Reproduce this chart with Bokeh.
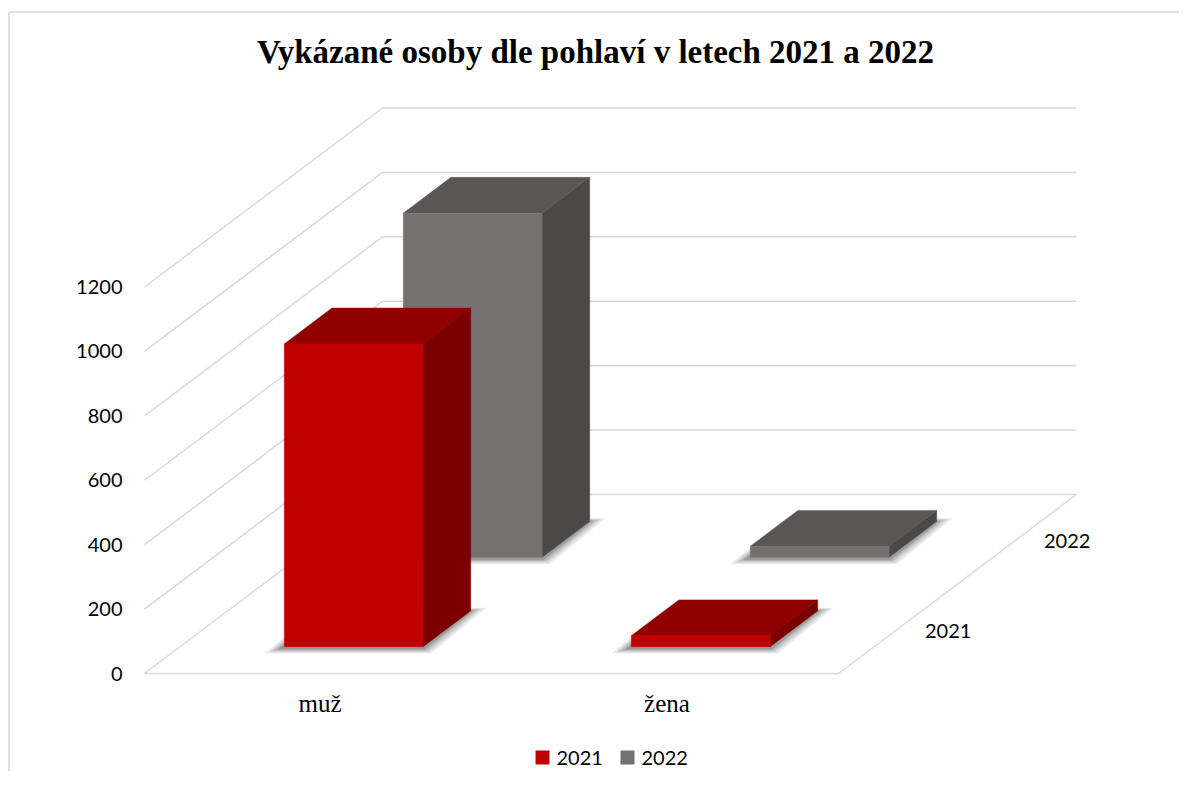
from bokeh.plotting import figure
from bokeh.models import Range1d
from bokeh.core.properties import value
from bokeh.embed import file_html
from bokeh.resources import INLINE

# ---- data ----
title = "Vykázané osoby dle pohlaví v letech 2021 a 2022"
categories = ["muž", "žena"]
series_names = ["2021", "2022"]
values_2021 = [940, 34]
values_2022 = [1068, 34]
y_ticks = [0, 200, 400, 600, 800, 1000, 1200]

front_colors = {"2021": "#C00000", "2022": "#767171"}
top_colors = {"2021": "#900000", "2022": "#5B5655"}
side_colors = {"2021": "#7A0000", "2022": "#4C4847"}

# ---- layout / projection ----
W, H = 1179, 771
X0, Y0 = 144.0, 673.0      # front-left floor corner (px)
CAT_W = 347.0               # px per category along x
DZX, DZY = 119.0, 89.5      # px per series slot along depth
SCALE = 386.5 / 1200.0      # px per value unit
BAR_W = 0.4                 # fraction of category
BAR_D = 0.4                 # fraction of series slot


def proj(x, z, v):
    return (X0 + x * CAT_W + z * DZX, Y0 - v * SCALE - z * DZY)


p = figure(width=W, height=H, output_backend="svg", toolbar_location=None,
           x_range=Range1d(0, W), y_range=Range1d(H, 0),
           min_border=0)
p.axis.visible = False
p.grid.visible = False
p.outline_line_color = None
p.background_fill_color = "white"

# chart frame
p.multi_line(xs=[[8.5, W + 5], [8.5, 8.5]], ys=[[11.5, 11.5], [11.5, H + 5]],
             line_color="#D9D9D9", line_width=1.5)

# gridlines: left wall and back wall
nz = len(series_names)
nc = len(categories)
gx, gy = [], []
for t in y_ticks:
    a = proj(0, 0, t); b = proj(0, nz, t); c = proj(nc, nz, t)
    gx.append([a[0], b[0], c[0]]); gy.append([a[1], b[1], c[1]])
# floor front and right edge
a = proj(0, 0, 0); b = proj(nc, 0, 0); c = proj(nc, nz, 0)
gx.append([a[0], b[0], c[0]]); gy.append([a[1], b[1], c[1]])
p.multi_line(xs=gx, ys=gy, line_color="#D9D9D9", line_width=1.5)

# y tick labels
p.text(x=[X0 - 22] * len(y_ticks), y=[proj(0, 0, t)[1] for t in y_ticks],
       text=[str(t) for t in y_ticks], text_align="right", text_baseline="middle",
       text_font=value("Lato"), text_font_size="20px", text_color="#000000")

# category labels
p.text(x=[proj(i + 0.5, 0, 0)[0] + 2 for i in range(nc)], y=[proj(0, 0, 0)[1] + 30] * nc,
       text=categories, text_align="center", text_baseline="middle",
       text_font=value("Liberation Serif"), text_font_size="25px", text_color="#000000")

# series labels on depth axis
p.text(x=[proj(nc, s + 0.5, 0)[0] + 27 for s in range(nz)],
       y=[proj(nc, s + 0.5, 0)[1] + 2 for s in range(nz)],
       text=series_names, text_align="left", text_baseline="middle",
       text_font=value("Lato"), text_font_size="20px", text_color="#000000")

# bars, back series first
series_values = {"2021": values_2021, "2022": values_2022}
for s in reversed(range(nz)):
    name = series_names[s]
    vals = series_values[name]
    z0 = s + (1 - BAR_D) / 2
    z1 = z0 + BAR_D
    # soft shadows on the floor
    shx, shy = [], []
    for ci, v in enumerate(vals):
        x0 = ci + (1 - BAR_W) / 2
        x1 = x0 + BAR_W
        FL = proj(x0, z0, 0); FR = proj(x1, z0, 0); BR = proj(x1, z1, 0); BL = proj(x0, z1, 0)
        for e in (16, 12, 9, 6, 4, 2):
            shx.append([FL[0] - e - 4, FR[0] + e * 0.5, BR[0] + e, BL[0] - e * 0.5 - 4])
            shy.append([FL[1] + e * 0.3 + 2, FR[1] + e * 0.3 + 2, BR[1] - e * 0.2, BL[1] - e * 0.2])
    p.patches(xs=shx, ys=shy, fill_color="#000000", fill_alpha=0.08, line_color=None)
    fx, fy, tx, ty, sx, sy = [], [], [], [], [], []
    for ci, v in enumerate(vals):
        x0 = ci + (1 - BAR_W) / 2
        x1 = x0 + BAR_W
        pts = [proj(x0, z0, 0), proj(x1, z0, 0), proj(x1, z0, v), proj(x0, z0, v)]
        fx.append([q[0] for q in pts]); fy.append([q[1] for q in pts])
        pts = [proj(x0, z0, v), proj(x1, z0, v), proj(x1, z1, v), proj(x0, z1, v)]
        tx.append([q[0] for q in pts]); ty.append([q[1] for q in pts])
        pts = [proj(x1, z0, 0), proj(x1, z1, 0), proj(x1, z1, v), proj(x1, z0, v)]
        sx.append([q[0] for q in pts]); sy.append([q[1] for q in pts])
    p.patches(xs=sx, ys=sy, fill_color=side_colors[name], line_color=side_colors[name], line_width=0.5)
    p.patches(xs=tx, ys=ty, fill_color=top_colors[name], line_color=top_colors[name], line_width=0.5)
    p.patches(xs=fx, ys=fy, fill_color=front_colors[name], line_color=front_colors[name], line_width=0.5)

# title
p.text(x=[595], y=[51], text=[title], text_align="center", text_baseline="middle",
       text_font=value("Liberation Serif"), text_font_style="bold",
       text_font_size="33px", text_color="#000000")

# legend
leg_x = [535, 620]
p.quad(left=leg_x, right=[lx + 14 for lx in leg_x], top=[750] * 2, bottom=[764] * 2,
       fill_color=[front_colors[n] for n in series_names], line_color=None)
p.text(x=[lx + 21 for lx in leg_x], y=[757] * 2, text=series_names,
       text_align="left", text_baseline="middle",
       text_font=value("Lato"), text_font_size="20px", text_color="#000000")

open("out.html", "w").write(file_html(p, INLINE))
